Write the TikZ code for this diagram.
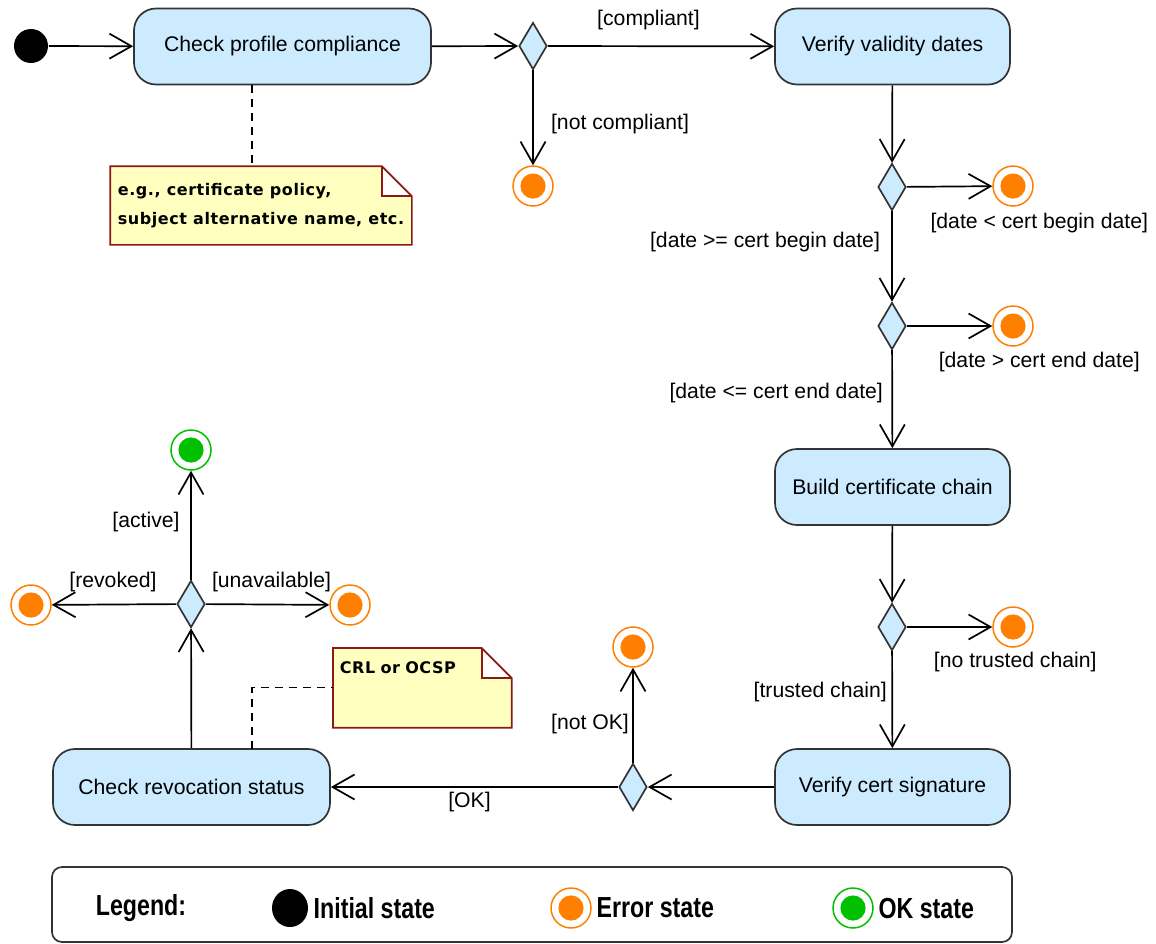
\documentclass[tikz,border=0pt]{standalone}
\usepackage{fontspec}
\setmainfont{Liberation Sans}
\newfontfamily\notefont[LetterSpace=3.5]{DejaVu Sans}
\newfontfamily\legendfont[FakeStretch=0.8]{Liberation Sans}
\usetikzlibrary{arrows.meta,shapes.geometric,positioning}
\definecolor{actfill}{RGB}{204,235,255}
\definecolor{actline}{RGB}{51,51,51}
\definecolor{notefill}{RGB}{255,255,192}
\definecolor{noteline}{RGB}{140,24,24}
\definecolor{errorg}{RGB}{255,128,0}
\definecolor{okgrn}{RGB}{0,192,0}
\tikzset{>={Straight Barb[length=11pt,width=12.5pt]}}

\begin{document}
\begin{tikzpicture}[x=0.5pt, y=-0.5pt, line width=0.85pt,
  font=\fontsize{10.6pt}{12.7pt}\selectfont,
  act/.style={draw=actline, fill=actfill, rounded corners=11pt, minimum height=38pt, inner sep=0pt},
  dec/.style={diamond, draw=actline, fill=actfill, inner sep=0pt, minimum width=14pt, minimum height=23.5pt},
  lbl/.style={inner sep=0pt},
  flow/.style={->},
  initstate/.style={circle, fill=black, inner sep=0pt, minimum size=17pt},
  endstate/.style={circle, draw=#1, fill=white, line width=0.75pt, inner sep=0pt, minimum size=20pt,
    path picture={\fill[#1] (path picture bounding box.center) circle (6.3pt);}},
  errstate/.style={endstate=errorg},
  okstate/.style={endstate=okgrn},
  note/.style={fill=notefill, inner xsep=3pt, inner ysep=0pt, align=left,
    font=\notefont\bfseries\fontsize{8pt}{14.5pt}\selectfont},
  notelink/.style={dash pattern=on 4pt off 3pt, line width=0.6pt},
  legtxt/.style={font=\legendfont\bfseries\fontsize{14.5pt}{16pt}\selectfont, inner sep=2pt}
]
  \useasboundingbox (0,0) rectangle (1156,943);

  %% activities and decisions
  \node[initstate] (init) at (31,46) {};
  \node[act, minimum width=148.5pt] (chkprof) at (282.5,46.5) {Check profile compliance};
  \node[dec] (d1) at (533,46) {};
  \node[errstate] (e1) at (533,186) {};
  \node[act, minimum width=117.5pt] (valid) at (892.5,46.5) {Verify validity dates};
  \node[dec] (d2) at (892,187) {};
  \node[errstate] (e2) at (1013,186) {};
  \node[dec] (d3) at (892,326) {};
  \node[errstate] (e3) at (1013,326) {};
  \node[act, minimum width=117.5pt] (chain) at (892.5,487) {Build certificate chain};
  \node[dec] (d4) at (892,627) {};
  \node[errstate] (e4) at (1013,627) {};
  \node[act, minimum width=117.5pt] (sig) at (892.5,787) {Verify cert signature};
  \node[dec] (d5) at (633,787) {};
  \node[errstate] (e5) at (633,647) {};
  \node[act, minimum width=138.5pt] (revoc) at (191.5,787) {Check revocation status};
  \node[dec] (d6) at (191,604) {};
  \node[okstate] (ok) at (191,450) {};
  \node[errstate] (e6) at (31,605) {};
  \node[errstate] (e7) at (350,605) {};

  %% notes
  \node[note, minimum width=150pt, minimum height=38.5pt] (note1) at (261,205.5)
    {e.g., certificate policy,\\subject alternative name, etc.};
  \fill[white] ([xshift=-15pt]note1.north east) rectangle ([yshift=-15pt]note1.north east);
  \draw[noteline] (note1.north west) -- ([xshift=-15pt]note1.north east)
    -- ([yshift=-15pt]note1.north east) -- (note1.south east) -- (note1.south west) -- cycle;
  \draw[noteline] ([xshift=-15pt]note1.north east) |- ([yshift=-15pt]note1.north east);

  \node[note, anchor=north west, text width=82.5pt, inner ysep=3.75pt,
    text height=8.5pt, text depth=23pt] (note2) at (333,648) {CRL or OCSP};
  \fill[white] ([xshift=-15pt]note2.north east) rectangle ([yshift=-15pt]note2.north east);
  \draw[noteline] (note2.north west) -- ([xshift=-15pt]note2.north east)
    -- ([yshift=-15pt]note2.north east) -- (note2.south east) -- (note2.south west) -- cycle;
  \draw[noteline] ([xshift=-15pt]note2.north east) |- ([yshift=-15pt]note2.north east);

  \coordinate (n1a) at (252,85);
  \coordinate (n2a) at (252,749);
  \draw[notelink] (n1a) -- (n1a |- note1.north);
  \draw[notelink] (n2a) |- (note2.west);

  %% flows
  \draw[flow] (init) -- (chkprof);
  \draw[flow] (chkprof) -- (d1);
  \draw[flow] (d1) -- node[lbl, shift={(-12.5,-26)}] {[compliant]} (valid);
  \draw[flow] (d1) -- node[lbl, shift={(87,6)}] {[not compliant]} (e1);
  \draw[flow] (valid) -- (d2);
  \draw[flow] (d2) -- node[lbl, pos=1, shift={(47,37)}] {[date < cert begin date]} (e2);
  \draw[flow] (d2) -- node[lbl, shift={(-127,-14.5)}] {[date >= cert begin date]} (d3);
  \draw[flow] (d3) -- node[lbl, pos=1, shift={(47,36)}] {[date > cert end date]} (e3);
  \draw[flow] (d3) -- node[lbl, shift={(-116,-6.5)}] {[date <= cert end date]} (chain);
  \draw[flow] (chain) -- (d4);
  \draw[flow] (d4) -- node[lbl, pos=1, shift={(23,35)}] {[no trusted chain]} (e4);
  \draw[flow] (d4) -- node[lbl, shift={(-72,-8)}] {[trusted chain]} (sig);
  \draw[flow] (sig) -- (d5);
  \draw[flow] (d5) -- node[lbl, shift={(-43,9)}] {[not OK]} (e5);
  \draw[flow] (d5) -- node[lbl, shift={(-5,15)}] {[OK]} (revoc);
  \draw[flow] (revoc) -- (d6);
  \draw[flow] (d6) -- node[lbl, shift={(-45,-3)}] {[active]} (ok);
  \draw[flow] (d6) -- node[lbl, shift={(-1,-22)}] {[revoked]} (e6);
  \draw[flow] (d6) -- node[lbl, shift={(4,-22)}] {[unavailable]} (e7);

  %% legend
  \node[draw=actline, rounded corners=5pt, minimum width=480pt, minimum height=37.5pt,
    inner sep=0pt] (legend) at (532,904.5) {};
  \node[legtxt] (legtitle) at (141,908) {Legend:};
  \node[ellipse, fill=black, minimum width=18pt, minimum height=19pt, inner sep=0pt] (lgini) at (290,908) {};
  \node[legtxt, right=0pt of lgini] (lginitxt) {Initial state};
  \node[errstate] (lgerr) at (571,908) {};
  \node[legtxt, right=0pt of lgerr] (lgerrtxt) {Error state};
  \node[okstate] (lgok) at (853,908) {};
  \node[legtxt, right=0pt of lgok] (lgoktxt) {OK state};
\end{tikzpicture}
\end{document}
